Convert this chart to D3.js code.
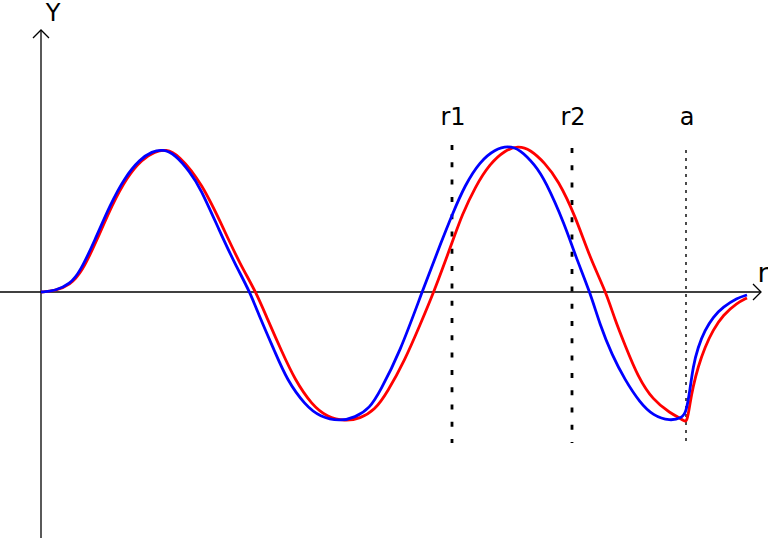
<!DOCTYPE html>
<html>
<head>
<meta charset="utf-8">
<script src="https://cdn.jsdelivr.net/npm/d3@7"></script>
<style>
  body { margin: 0; background: #fff; }
  svg { display: block; }
  text { font-family: "DejaVu Sans", sans-serif; fill: #000; }
</style>
</head>
<body>
<svg id="chart" width="768" height="538"></svg>
<script>
// blue curve samples (r, Y)
var blueR = [0, 0.28, 0.58, 0.78, 1.08, 1.38, 1.68, 1.98, 2.22, 2.44, 2.68, 2.98, 3.18, 3.58, 3.88, 4.18,
  4.38, 4.68, 4.92, 5.28, 5.58, 5.98, 6.28, 6.58, 6.78, 7.18, 7.62, 8.02, 8.22, 8.48, 8.78, 9.08, 9.34,
  9.58, 9.88, 10.08, 10.48, 10.68, 10.98, 11.18, 11.42, 11.68, 11.98, 12.24, 12.58, 12.82, 12.90, 12.98,
  13.04, 13.14, 13.28, 13.44, 13.64, 13.92, 14.12];
var blueY = [0, 0.007, 0.056, 0.141, 0.366, 0.613, 0.810, 0.935, 0.990, 1.005, 0.970, 0.845, 0.739, 0.423, 0.197, 0,
  -0.183, -0.423, -0.620, -0.796, -0.880, -0.910, -0.885, -0.817, -0.700, -0.423, 0, 0.366, 0.542, 0.754, 0.920, 1.005, 1.030,
  1.005, 0.894, 0.789, 0.472, 0.261, 0, -0.232, -0.444, -0.620, -0.780, -0.870, -0.910, -0.885, -0.852, -0.690,
  -0.528, -0.387, -0.268, -0.176, -0.106, -0.042, -0.021];

// red curve samples (r, Y)
var redR = [0, 0.28, 0.58, 0.82, 1.12, 1.42, 1.72, 2.02, 2.28, 2.50, 2.74, 3.22, 3.68, 3.98, 4.30,
  4.52, 4.82, 5.08, 5.42, 5.72, 6.08, 6.38, 6.68, 6.92, 7.28, 7.58, 7.86, 8.24, 8.42, 8.68, 8.98, 9.28, 9.54,
  9.78, 10.08, 10.34, 10.68, 10.98, 11.30, 11.48, 11.68, 11.94, 12.24, 12.58, 12.84, 12.92, 12.98,
  13.04, 13.14, 13.28, 13.44, 13.64, 13.92, 14.12];
var redY = [0, 0.007, 0.049, 0.141, 0.366, 0.613, 0.810, 0.935, 0.990, 1.005, 0.970, 0.768, 0.423, 0.197, 0,
  -0.183, -0.423, -0.620, -0.796, -0.880, -0.910, -0.892, -0.831, -0.711, -0.479, -0.232, 0, 0.366, 0.542, 0.739, 0.905, 0.998, 1.030,
  1.005, 0.908, 0.789, 0.542, 0.239, 0, -0.197, -0.373, -0.599, -0.761, -0.852, -0.900, -0.925, -0.782,
  -0.669, -0.528, -0.387, -0.268, -0.162, -0.077, -0.042];

// vertical markers
var markerNames = ['r1', 'r2', 'a'];
var markerR = [8.22, 10.62, 12.90];

var svg = d3.select('#chart');

var x = d3.scaleLinear().domain([0, 14.2]).range([41, 751]);
var y = d3.scaleLinear().domain([-1, 1]).range([434, 150]);

// axes
var ax = svg.append('g').attr('stroke', '#000').attr('stroke-width', 1.3).attr('fill', 'none');
ax.append('line').attr('x1', 0).attr('x2', 761).attr('y1', y(0)).attr('y2', y(0));
ax.append('path').attr('d', 'M753,' + (y(0) - 8) + 'L761,' + y(0) + 'L753,' + (y(0) + 8));
ax.append('line').attr('x1', x(0)).attr('x2', x(0)).attr('y1', 538).attr('y2', 30);
ax.append('path').attr('d', 'M' + (x(0) - 8) + ',38L' + x(0) + ',30L' + (x(0) + 8) + ',38');

svg.append('text').attr('x', 53).attr('y', 21).attr('text-anchor', 'middle')
  .style('font-size', '24px').text('Y');
svg.append('text').attr('x', 763).attr('y', 282).attr('text-anchor', 'middle')
  .style('font-size', '27px').text('r');

// marker lines
var tops = [145, 148, 150];
markerNames.forEach(function(name, i) {
  var dotted = name === 'a';
  svg.append('line')
    .attr('x1', x(markerR[i])).attr('x2', x(markerR[i]))
    .attr('y1', tops[i]).attr('y2', 443)
    .attr('stroke', '#000')
    .attr('stroke-width', dotted ? 1.4 : 2.8)
    .style('stroke-dasharray', dotted ? '3, 5' : '5, 12.3');
  svg.append('text')
    .attr('x', x(markerR[i]) + 1).attr('y', 125)
    .attr('text-anchor', 'middle')
    .style('font-size', '24px')
    .text(name);
});

var line = d3.line()
  .x(function(d) { return x(d[0]); })
  .y(function(d) { return y(d[1]); })
  .curve(d3.curveBasis);

svg.append('path')
  .datum(d3.zip(redR, redY))
  .attr('d', line)
  .attr('fill', 'none')
  .attr('stroke', '#ff0000')
  .attr('stroke-width', 2.8);

svg.append('path')
  .datum(d3.zip(blueR, blueY))
  .attr('d', line)
  .attr('fill', 'none')
  .attr('stroke', '#0000ff')
  .attr('stroke-width', 2.8);
</script>
</body>
</html>
